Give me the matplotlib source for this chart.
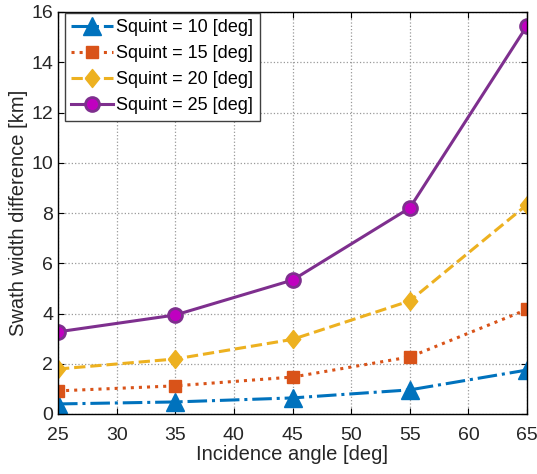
import matplotlib
matplotlib.use("agg")
import matplotlib.pyplot as plt

plt.rcParams['font.family'] = ['Liberation Sans', 'DejaVu Sans']

# incidence angle [deg]
incidence = [25, 35, 45, 55, 65]

# swath width difference [km] per squint angle
squint_10 = [0.40, 0.48, 0.64, 0.96, 1.75]
squint_15 = [0.92, 1.12, 1.47, 2.27, 4.16]
squint_20 = [1.79, 2.19, 2.97, 4.50, 8.33]
squint_25 = [3.27, 3.94, 5.33, 8.20, 15.45]

# matlab-ish diamond, a bit taller than wide
diamond = [(-0.8, 0), (0, 1), (0.8, 0), (0, -1), (-0.8, 0)]

fig = plt.figure(figsize=(5.37, 4.74), dpi=100)
ax = fig.add_axes([58/537, 60/474, 469/537, 402/474])

ax.plot(incidence, squint_10, color='#0072BD', ls='-.', lw=2.2, marker='^',
        ms=13, mfc='#0072BD', mec='#0072BD', label='Squint = 10 [deg]')
ax.plot(incidence, squint_15, color='#D95319', ls=':', lw=2.2, marker='s',
        ms=8.5, mfc='#D95319', mec='#D95319', label='Squint = 15 [deg]')
ax.plot(incidence, squint_20, color='#EDB120', ls='--', lw=2.2, marker=diamond,
        ms=13, mfc='#EDB120', mec='#EDB120', label='Squint = 20 [deg]')
ax.plot(incidence, squint_25, color='#7E2F8E', ls='-', lw=2.2, marker='o',
        ms=10, mfc='#C000C0', mec='#7E2F8E', mew=2, label='Squint = 25 [deg]')

ax.set_xlim(25, 65)
ax.set_ylim(0, 16)
ax.set_xticks(range(25, 66, 5))
ax.set_yticks(range(0, 17, 2))
ax.grid(True, ls=':', color='#999999', lw=0.9)
ax.tick_params(direction='in', top=True, right=True, labelsize=14, length=4,
               labelcolor='#262626')
ax.tick_params(axis='x', pad=9)
for s in ax.spines.values():
    s.set_linewidth(1.0)
ax.set_xlabel('Incidence angle [deg]', fontsize=14.5, color='#262626', labelpad=1)
ax.set_ylabel('Swath width difference [km]', fontsize=14.5, color='#262626', labelpad=2)

leg = ax.legend(loc='upper left', bbox_to_anchor=(7/469, 1 - 1/402),
                borderaxespad=0, fontsize=13, handlelength=2.3,
                fancybox=False, framealpha=1, edgecolor='#404040',
                labelspacing=0.5, handletextpad=0.2, borderpad=0.35)

fig.savefig('out.png', dpi=100)
